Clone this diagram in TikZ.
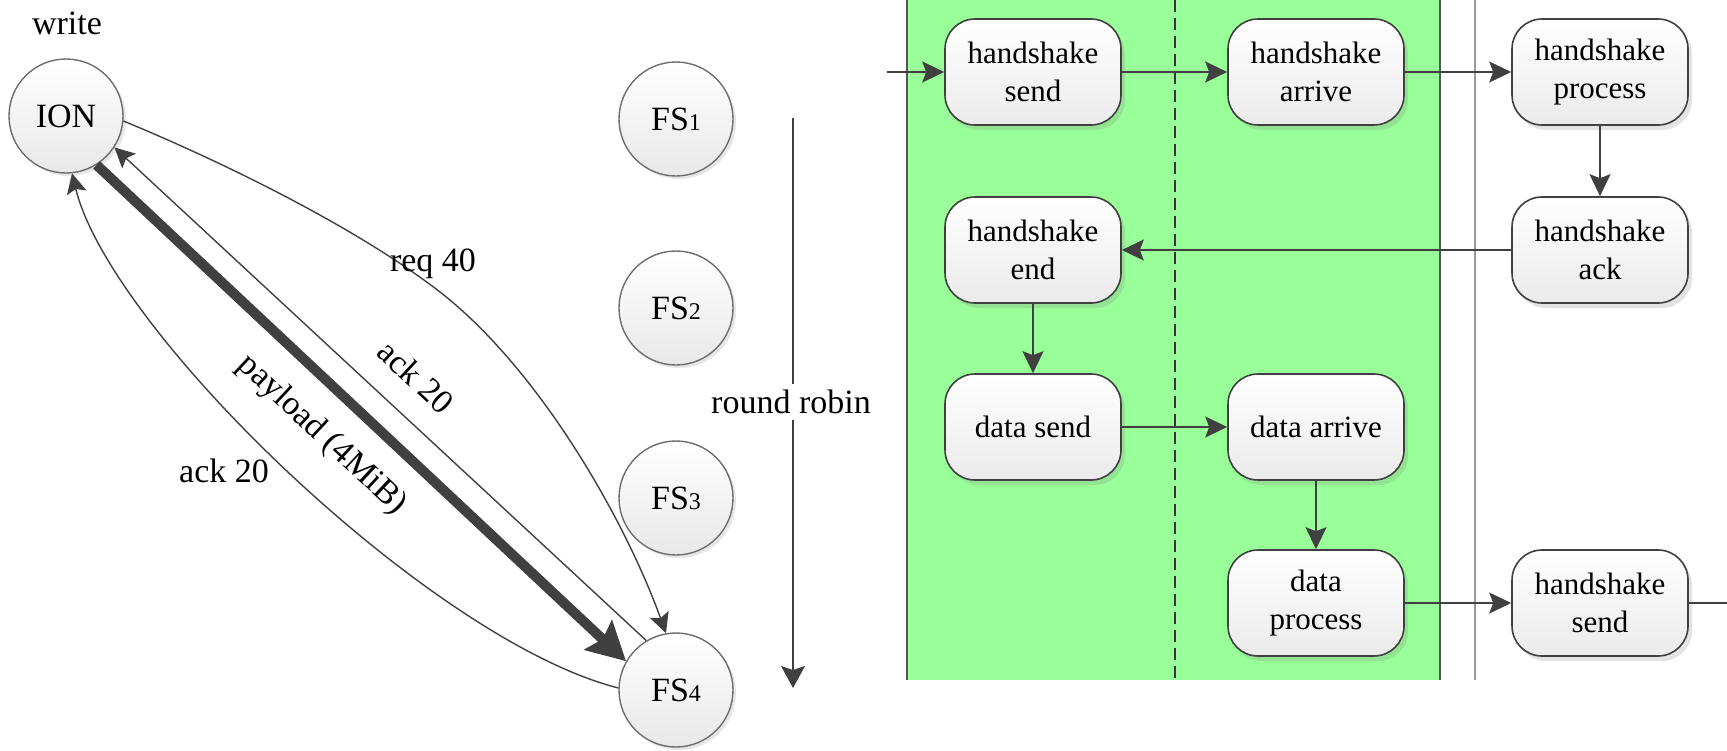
\documentclass[tikz,border=0pt]{standalone}
\usepackage{fontspec}
\setmainfont{Liberation Serif}
\usetikzlibrary{arrows.meta,shadows}

\definecolor{lanegreen}{RGB}{153,255,153}
\definecolor{ink}{HTML}{404040}
\definecolor{laneedge}{HTML}{555555}
\definecolor{sepgray}{HTML}{9A9A9A}
\definecolor{ringgray}{HTML}{6E6E6E}

% small digits used in the FS labels
\newcommand\fsnum[1]{{\fontsize{12}{12}\selectfont #1}}

\begin{document}
\begin{tikzpicture}[x=0.5pt,y=-0.5pt,
  station/.style={circle, draw=ringgray, line width=0.7pt, minimum size=57pt,
    inner sep=0pt, top color=white, bottom color=black!9,
    drop shadow={shadow xshift=1.5pt, shadow yshift=-1.5pt, opacity=0.2},
    font=\fontsize{17}{20}\selectfont},
  stepbox/.style={rectangle, rounded corners=15pt, draw=ink, line width=0.8pt,
    minimum width=88pt, minimum height=53pt, align=center, inner sep=2pt,
    top color=white, bottom color=black!8,
    drop shadow={shadow xshift=2pt, shadow yshift=-2.5pt, opacity=0.22},
    font=\fontsize{15.5}{19}\selectfont},
  flow/.style={draw=ink, line width=1pt, -{Stealth[length=11pt,width=10.5pt,inset=2pt]}},
  thinarrow/.style={draw=ink, line width=0.7pt, -{Stealth[length=10pt,width=10pt,inset=2pt]}},
  heavyarrow/.style={draw=ink, line width=5pt, -{Stealth[length=19pt,width=20pt,inset=3pt]}},
  lbl/.style={font=\fontsize{17}{20}\selectfont, inner sep=1pt}
]
\useasboundingbox (0,0) rectangle (1727,750);

% ---------- left: ION and the file servers ----------
\node[lbl] (write) at (67,23) {write};
\node[station] (ion) at (66,116) {ION};
\node[station] (fs1) at (676,119) {FS\fsnum{1}};
\node[station] (fs2) at (676,308) {FS\fsnum{2}};
\node[station] (fs3) at (676,498) {FS\fsnum{3}};
\node[station] (fs4) at (676,690) {FS\fsnum{4}};

% request, payload and the two acknowledgements
\draw[thinarrow] (ion.-5) .. controls (230,165) and (360,230) .. (440,292)
  .. controls (540,370) and (625,520) .. (fs4.100);
\draw[thinarrow] (fs4.121) -- (ion.-33);
\draw[heavyarrow] (ion.-58) -- (fs4.150);
\draw[thinarrow] (fs4.178) .. controls (430,640) and (110,330) .. (ion.-84);

\node[lbl] (lreq) at (433,264) {req 40};
\node[lbl, rotate=-43] (lack1) at (416,377) {ack 20};
\node[lbl, rotate=-43] (lpay) at (322,435) {payload (4MiB)};
\node[lbl] (lack2) at (224,471) {ack 20};

% round robin order over the servers
\coordinate (rrtop) at (793,118);
\coordinate (rrbot) at (793,688);
\draw[draw=ink, line width=0.7pt, -{Stealth[length=11pt,width=12pt,inset=2pt]}] (rrtop) -- (rrbot);
\node[lbl, fill=white, inner sep=3pt] (rr) at (791,402) {round robin};

% ---------- right: pipeline lanes ----------
\fill[lanegreen] (907,0) rectangle (1440,680);
\draw[laneedge, line width=1pt] (907,0) -- (907,680);
\draw[laneedge, line width=1pt] (1440,0) -- (1440,680);
\draw[black!80, line width=0.6pt, dash pattern=on 6pt off 3pt] (1175,0) -- (1175,680);
\draw[sepgray, line width=1pt] (1475,0) -- (1475,680);

\node[stepbox] (hs1) at (1033,72) {handshake\\send};
\node[stepbox] (ha)  at (1316,72) {handshake\\arrive};
\node[stepbox] (hp)  at (1600,72) {handshake\\process};
\node[stepbox] (hk)  at (1600,250) {handshake\\ack};
\node[stepbox] (he)  at (1033,250) {handshake\\end};
\node[stepbox] (ds)  at (1033,427) {data send};
\node[stepbox] (da)  at (1316,427) {data arrive};
\node[stepbox] (dp)  at (1316,603) {data\\process};
\node[stepbox] (hs2) at (1600,603) {handshake\\send};

\coordinate (entry) at (887,72);
\coordinate (exit) at (1727,603);

\draw[flow] (entry) -- (hs1);
\draw[flow] (hs1) -- (ha);
\draw[flow] (ha) -- (hp);
\draw[flow] (hp) -- (hk);
\draw[flow] (hk) -- (he);
\draw[flow] (he) -- (ds);
\draw[flow] (ds) -- (da);
\draw[flow] (da) -- (dp);
\draw[flow] (dp) -- (hs2);
\draw[draw=ink, line width=1pt] (hs2) -- (exit);
\end{tikzpicture}
\end{document}
